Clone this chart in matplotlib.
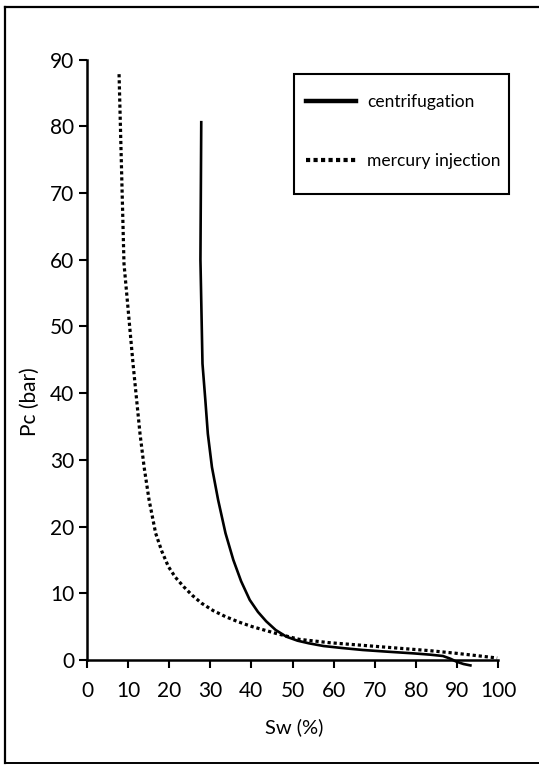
import matplotlib
matplotlib.use("Agg")
import matplotlib.pyplot as plt
from matplotlib.lines import Line2D
from matplotlib.patches import Rectangle

plt.rcParams['font.family'] = ['Lato', 'DejaVu Sans']

# capillary pressure curves, Sw in %, Pc in bar
cent_sw = [27.8, 27.6, 28.1, 28.8, 29.4, 30.4, 31.9, 33.7, 35.6, 37.5, 39.6,
           41.6, 43.6, 45.9, 48.5, 51.2, 54.0, 57.5, 62.0, 67.1, 73.0, 79.3,
           83.5, 86.6, 88.4, 89.9, 91.6, 93.6]
cent_pc = [80.8, 60.0, 44.4, 38.9, 33.9, 28.9, 24.0, 19.0, 15.0, 11.8, 9.0,
           7.2, 5.8, 4.5, 3.5, 2.9, 2.5, 2.1, 1.8, 1.5, 1.25, 1.0,
           0.8, 0.6, 0.2, -0.25, -0.6, -0.85]

merc_sw = [7.8, 9.0, 11.2, 12.9, 13.9, 15.1, 16.7, 18.2, 19.8, 21.5, 23.5,
           25.6, 27.9, 30.7, 33.7, 36.9, 40.2, 45.9, 51.6, 58.9, 71.1, 83.4,
           89.9, 95.6, 99.8]
merc_pc = [87.8, 59.4, 44.4, 33.9, 28.9, 24.0, 19.0, 16.3, 14.0, 12.4, 11.0,
           9.7, 8.5, 7.4, 6.5, 5.7, 5.0, 4.0, 3.1, 2.6, 2.0, 1.4,
           1.0, 0.6, 0.3]

x_ticks = list(range(0, 101, 10))
y_ticks = list(range(0, 91, 10))

W, H = 539, 767
fig = plt.figure(figsize=(W / 100, H / 100), dpi=100)
ax = fig.add_axes([87 / W, (H - 660) / H, (498 - 87) / W, (660 - 59.5) / H])

ax.plot(cent_sw, cent_pc, color='black', lw=1.9, solid_capstyle='butt',
        solid_joinstyle='round', clip_on=False, label='centrifugation')
ax.plot(merc_sw, merc_pc, color='black', lw=2.3, linestyle=(0, (1, 0.9)),
        clip_on=False, label='mercury injection')

ax.set_xlim(0, 100)
ax.set_ylim(0, 90)
ax.set_xticks(x_ticks)
ax.set_yticks(y_ticks)
for s in ['top', 'right']:
    ax.spines[s].set_visible(False)
for s in ['left', 'bottom']:
    ax.spines[s].set_linewidth(1.8)
ax.tick_params(direction='out', length=6, width=1.5, labelsize=15)
ax.tick_params(axis='x', pad=9)
ax.tick_params(axis='y', pad=3)

ax.set_xlabel('Sw (%)', fontsize=14.5)
ax.set_ylabel('Pc (bar)', fontsize=15)
ax.xaxis.set_label_coords(0.503, -0.097)
ax.yaxis.set_label_coords(-0.115, 0.43)

# legend entries, with the box drawn separately so it can be taller
handles = [Line2D([], [], color='black', lw=3.2),
           Line2D([], [], color='black', lw=3.0, linestyle=(0, (1, 0.8)))]
fig.legend(handles, ['centrifugation', 'mercury injection'],
           loc='upper left', bbox_to_anchor=(306 / W, 1 - 94 / H),
           fontsize=12.5, frameon=False, handlelength=2.9, handletextpad=0.6,
           borderpad=0, labelspacing=2.5, borderaxespad=0)
fig.add_artist(Rectangle((294 / W, 1 - 194 / H), 215 / W, 120 / H,
                         transform=fig.transFigure, fill=False,
                         edgecolor='black', lw=1.5))

# border round the figure
fig.add_artist(Line2D([5 / W, 5 / W], [4 / H, 1 - 6.5 / H], color='black', lw=1.6))
fig.add_artist(Line2D([5 / W, 1], [1 - 6.5 / H, 1 - 6.5 / H], color='black', lw=1.6))
fig.add_artist(Line2D([5 / W, 1], [4 / H, 4 / H], color='black', lw=1.4))

fig.savefig('out.png', dpi=100)
